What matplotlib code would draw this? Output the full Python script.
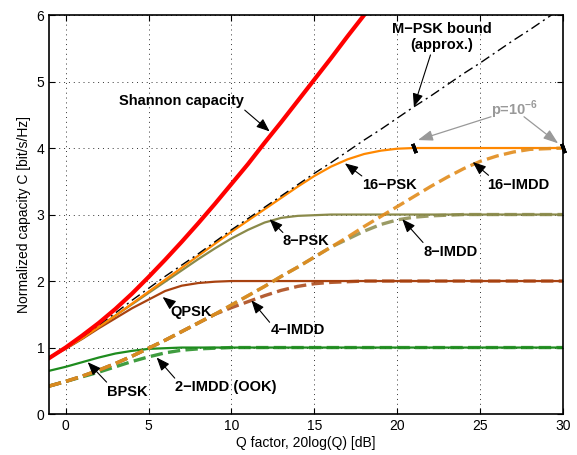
import matplotlib
matplotlib.use('Agg')
import matplotlib.pyplot as plt

plt.rcParams['font.family'] = ['Liberation Sans', 'DejaVu Sans']
plt.rcParams['mathtext.fontset'] = 'custom'
plt.rcParams['mathtext.rm'] = 'Liberation Sans'
plt.rcParams['mathtext.bf'] = 'Liberation Sans:bold'

# Q factor grid [dB]
q_db = list(range(-1, 31))
q_db_shannon = list(range(-1, 19))

# capacities [bit/s/Hz]
shannon = [0.84, 1.00, 1.18, 1.37, 1.58, 1.81, 2.06, 2.32, 2.59, 2.87,
           3.16, 3.46, 3.76, 4.08, 4.39, 4.71, 5.03, 5.35, 5.68, 6.00]
mpsk_bound = [0.85, 1.00, 1.16, 1.34, 1.52, 1.71, 1.89, 2.07, 2.24, 2.41, 2.59,
              2.77, 2.94, 3.11, 3.28, 3.45, 3.62, 3.78, 3.95, 4.12, 4.28, 4.45,
              4.62, 4.78, 4.95, 5.12, 5.28, 5.45, 5.62, 5.78, 5.95, 6.12]
psk16 = [0.85, 0.99, 1.14, 1.31, 1.48, 1.66, 1.84, 2.02, 2.20, 2.38, 2.56,
         2.74, 2.91, 3.08, 3.25, 3.42, 3.58, 3.72, 3.83, 3.91, 3.96, 3.99,
         4.00, 4.00, 4.00, 4.00, 4.00, 4.00, 4.00, 4.00, 4.00, 4.00]
psk8 = [0.85, 0.99, 1.14, 1.31, 1.48, 1.65, 1.82, 1.99, 2.16, 2.33, 2.49,
        2.64, 2.77, 2.88, 2.95, 2.98, 2.99, 3.00, 3.00, 3.00, 3.00, 3.00,
        3.00, 3.00, 3.00, 3.00, 3.00, 3.00, 3.00, 3.00, 3.00, 3.00]
qpsk = [0.85, 0.98, 1.13, 1.29, 1.44, 1.59, 1.72, 1.85, 1.93, 1.97, 1.99,
        2.00, 2.00, 2.00, 2.00, 2.00, 2.00, 2.00, 2.00, 2.00, 2.00, 2.00,
        2.00, 2.00, 2.00, 2.00, 2.00, 2.00, 2.00, 2.00, 2.00, 2.00]
bpsk = [0.65, 0.71, 0.78, 0.85, 0.91, 0.95, 0.98, 0.99, 1.00, 1.00, 1.00,
        1.00, 1.00, 1.00, 1.00, 1.00, 1.00, 1.00, 1.00, 1.00, 1.00, 1.00,
        1.00, 1.00, 1.00, 1.00, 1.00, 1.00, 1.00, 1.00, 1.00, 1.00]
imdd16 = [0.42, 0.49, 0.57, 0.66, 0.76, 0.87, 0.99, 1.11, 1.24, 1.37, 1.50,
          1.64, 1.78, 1.92, 2.07, 2.21, 2.36, 2.51, 2.66, 2.82, 2.97, 3.12,
          3.27, 3.42, 3.56, 3.69, 3.80, 3.88, 3.94, 3.98, 3.99, 4.00]
imdd8 = [0.42, 0.49, 0.57, 0.66, 0.76, 0.87, 0.99, 1.11, 1.24, 1.37, 1.50,
         1.64, 1.78, 1.92, 2.07, 2.21, 2.36, 2.51, 2.63, 2.75, 2.85, 2.92,
         2.96, 2.98, 2.99, 3.00, 3.00, 3.00, 3.00, 3.00, 3.00, 3.00]
imdd4 = [0.42, 0.49, 0.57, 0.66, 0.76, 0.87, 0.99, 1.11, 1.24, 1.37, 1.50,
         1.60, 1.69, 1.78, 1.86, 1.92, 1.96, 1.98, 1.99, 2.00, 2.00, 2.00,
         2.00, 2.00, 2.00, 2.00, 2.00, 2.00, 2.00, 2.00, 2.00, 2.00]
imdd2 = [0.42, 0.49, 0.56, 0.63, 0.71, 0.79, 0.86, 0.92, 0.96, 0.98, 0.99,
         1.00, 1.00, 1.00, 1.00, 1.00, 1.00, 1.00, 1.00, 1.00, 1.00, 1.00,
         1.00, 1.00, 1.00, 1.00, 1.00, 1.00, 1.00, 1.00, 1.00, 1.00]

# points where p = 1e-6 is reached for 16-PSK and 16-IMDD
p6_q = [21, 30]
p6_c = [4.0, 4.0]

c_orange = '#ff8800'
c_orange_d = '#e28c1c'
c_olive = '#8a8a4a'
c_brown = '#a84210'
c_green = '#1e8c1e'

fig = plt.figure(figsize=(5.77, 4.55), dpi=100)
ax = fig.add_axes([0.085, 0.09, 0.891, 0.877])

# solid (coherent PSK) curves
ax.plot(q_db, bpsk, color=c_green, lw=1.6)
ax.plot(q_db, qpsk, color=c_brown, lw=1.6)
ax.plot(q_db, psk8, color=c_olive, lw=1.6)
ax.plot(q_db, psk16, color=c_orange, lw=1.6)

# IMDD curves
ax.plot(q_db, imdd2, color=c_green, lw=2.4, ls='--', alpha=0.85)
ax.plot(q_db, imdd4, color=c_brown, lw=2.4, ls='--', alpha=0.85)
ax.plot(q_db, imdd8, color=c_olive, lw=2.4, ls='--', alpha=0.85)
ax.plot(q_db, imdd16, color=c_orange_d, lw=2.4, ls='--', alpha=0.9)

ax.plot(q_db, mpsk_bound, color='k', lw=1.0, dashes=(7, 3, 1.5, 3))
ax.plot(q_db_shannon, shannon, color='red', lw=3.0)

ax.plot(p6_q, p6_c, ls='none', marker=(2, 2, 20), ms=7, mew=2.5,
        color='k', clip_on=False)

ax.set_xlim(-1, 30)
ax.set_ylim(0, 6)
ax.set_xticks([0, 5, 10, 15, 20, 25, 30])
ax.set_yticks([0, 1, 2, 3, 4, 5, 6])
ax.grid(True, color='k', ls=(0, (1, 4)), lw=0.7, alpha=0.8)
ax.tick_params(direction='in', top=True, right=True, length=4, labelsize=10)
for s in ax.spines.values():
    s.set_linewidth(1.2)

ax.set_xlabel('Q factor, 20log(Q) [dB]', fontsize=10, labelpad=2)
ax.set_ylabel('Normalized capacity C [bit/s/Hz]', fontsize=10, labelpad=4)

# labels: text, text centre, arrow tail, arrow tip
notes = [
    ('Shannon capacity', (7.0, 4.70), (10.8, 4.57), (12.3, 4.25)),
    ('M\u2212PSK bound\n(approx.)', (22.7, 5.67), (22.0, 5.40), (21.0, 4.62)),
    ('16\u2212PSK', (19.5, 3.44), (17.86, 3.58), (16.84, 3.77)),
    ('16\u2212IMDD', (27.3, 3.44), (25.5, 3.59), (24.55, 3.79)),
    ('8\u2212PSK', (14.5, 2.60), (13.1, 2.73), (12.3, 2.93)),
    ('8\u2212IMDD', (23.2, 2.43), (21.55, 2.58), (20.3, 2.93)),
    ('QPSK', (7.55, 1.54), (6.3, 1.67), (5.85, 1.76)),
    ('4\u2212IMDD', (14.0, 1.26), (12.3, 1.38), (11.2, 1.71)),
    ('BPSK', (3.7, 0.33), (2.47, 0.48), (1.33, 0.78)),
    ('2\u2212IMDD (OOK)', (9.65, 0.40), (6.58, 0.54), (5.49, 0.85)),
]
for txt, pos, tail, tip in notes:
    ax.text(pos[0], pos[1], txt, ha='center', va='center', fontsize=10.5,
            fontweight='bold', linespacing=1.15)
    ax.annotate('', xy=tip, xytext=tail,
                arrowprops=dict(arrowstyle='-|>,head_length=0.8,head_width=0.32',
                                color='k', lw=0.8, shrinkA=0, shrinkB=0))

ax.text(27.1, 4.57, r'p=10$^{\mathbf{-6}}$', ha='center', va='center',
        fontsize=10.5, fontweight='bold', color='#999999')
for tail, tip in [((25.65, 4.47), (21.24, 4.12)), ((27.64, 4.47), (29.7, 4.07))]:
    ax.annotate('', xy=tip, xytext=tail,
                arrowprops=dict(arrowstyle='-|>,head_length=0.9,head_width=0.32',
                                color='#999999', lw=0.9, shrinkA=0, shrinkB=0))

fig.savefig('out.png', dpi=100)
